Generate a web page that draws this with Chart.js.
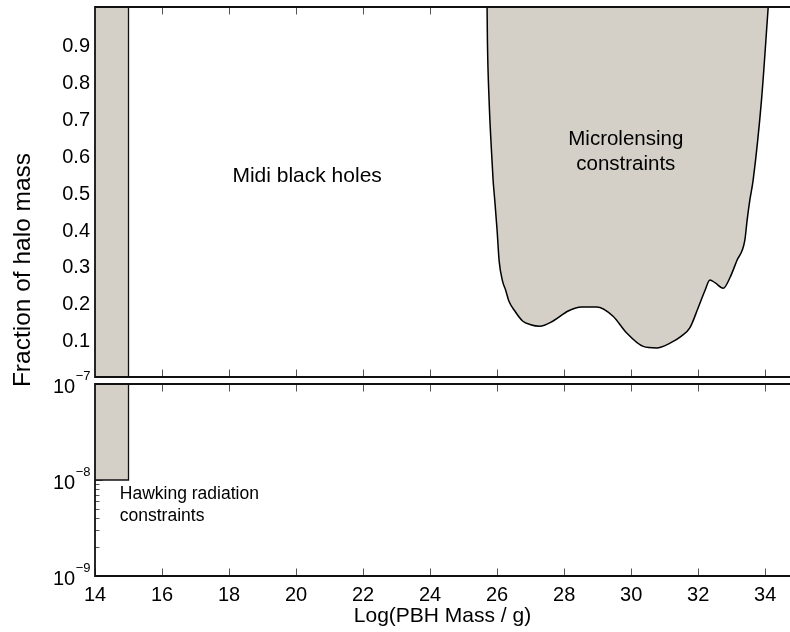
<!DOCTYPE html>
<html><head><meta charset="utf-8">
<script src="https://cdn.jsdelivr.net/npm/chart.js@4.4.0/dist/chart.umd.min.js"></script>
<style>
html,body{margin:0;padding:0;background:#fff;}
#wrap{position:relative;width:790px;height:632px;overflow:hidden;background:#fff;}
canvas{position:absolute;left:0;top:0;}
</style></head><body>
<div id="wrap"><canvas id="cTop" width="790" height="632"></canvas><canvas id="cBot" width="790" height="632"></canvas></div>
<script>
// ---- data ----
const xMin = 14, xMax = 34.74;
const xTicks = [14, 16, 18, 20, 22, 24, 26, 28, 30, 32, 34];
const topYMin = 0.004, topYMax = 1.008;
const topYTicks = [0.1, 0.2, 0.3, 0.4, 0.5, 0.6, 0.7, 0.8, 0.9];
const botYMin = 1e-9, botYMax = 1e-7;
const botYMajor = [1e-9, 1e-8, 1e-7];
const botYExp = ['−9', '−8', '−7'];

// Microlensing constraint boundary (log mass, fraction)
const microX = [25.70, 25.71, 25.76, 25.83, 25.88, 25.93, 26.00, 26.06, 26.16, 26.26, 26.35, 26.53, 26.76, 27.00, 27.27, 27.67, 28.12, 28.52, 28.97, 29.46, 29.86, 30.36, 30.76, 31.16, 31.50, 31.75, 32.00, 32.20, 32.35, 32.50, 32.75, 32.95, 33.15, 33.39, 33.46, 33.54, 33.64, 33.89, 34.09];
const microY = [1.008, 0.92, 0.756, 0.620, 0.538, 0.483, 0.401, 0.319, 0.265, 0.238, 0.210, 0.183, 0.156, 0.146, 0.142, 0.156, 0.183, 0.194, 0.194, 0.169, 0.124, 0.087, 0.083, 0.096, 0.115, 0.137, 0.192, 0.238, 0.267, 0.260, 0.245, 0.274, 0.319, 0.374, 0.429, 0.483, 0.538, 0.756, 1.008];

// Hawking radiation constraint (top: full height, bottom: 1e-8 .. 1e-7)
const hawkTopX = [14, 15, 15];
const hawkTopY = [1.008, 1.008, 0.004];
const hawkBotX = [14, 15, 15];
const hawkBotY = [1e-8, 1e-8, 1e-7];

const FILL = '#d4d0c8';
const FONT = "'Liberation Sans', Arial, Helvetica, sans-serif";
const TICKC = '#555';
const TL = 7.5;

function pts(xs, ys) { return xs.map((x, i) => ({x: x, y: ys[i]})); }

function drawBorders(chart) {
  const {ctx, chartArea: a} = chart;
  ctx.save();
  ctx.strokeStyle = '#111';
  ctx.lineWidth = 1.8;
  ctx.beginPath();
  ctx.moveTo(a.left, a.top); ctx.lineTo(a.right + 2, a.top);
  ctx.moveTo(a.left, a.bottom); ctx.lineTo(a.right + 2, a.bottom);
  ctx.moveTo(a.left, a.top - 0.9); ctx.lineTo(a.left, a.bottom + 0.9);
  ctx.stroke();
  ctx.restore();
}
function drawXTicks(chart) {
  const {ctx, chartArea: a} = chart;
  const xs = chart.scales.x;
  ctx.save();
  ctx.strokeStyle = TICKC; ctx.lineWidth = 1;
  ctx.beginPath();
  xTicks.forEach(v => {
    const px = Math.round(xs.getPixelForValue(v)) + 0.5;
    ctx.moveTo(px, a.top); ctx.lineTo(px, a.top + TL);
    ctx.moveTo(px, a.bottom); ctx.lineTo(px, a.bottom - TL);
  });
  ctx.stroke();
  ctx.restore();
}

const topPlugin = {
  id: 'topDeco',
  beforeDatasetsDraw(chart) {
    drawXTicks(chart);
    const {ctx, chartArea: a} = chart;
    const ys = chart.scales.y;
    ctx.save();
    ctx.strokeStyle = TICKC; ctx.lineWidth = 1;
    ctx.beginPath();
    topYTicks.forEach(v => {
      const py = Math.round(ys.getPixelForValue(v)) + 0.5;
      ctx.moveTo(a.left, py); ctx.lineTo(a.left + TL, py);
    });
    ctx.stroke();
    ctx.restore();
  },
  afterDatasetsDraw(chart) {
    drawBorders(chart);
    const {ctx} = chart;
    const xs = chart.scales.x, ys = chart.scales.y;
    ctx.save();
    ctx.fillStyle = '#000';
    ctx.textAlign = 'center';
    ctx.textBaseline = 'middle';
    ctx.font = '21px ' + FONT;
    ctx.fillText('Midi black holes', xs.getPixelForValue(20.33), ys.getPixelForValue(0.548));
    ctx.font = '20.5px ' + FONT;
    const mx = xs.getPixelForValue(29.84), my = ys.getPixelForValue(0.615);
    ctx.fillText('Microlensing', mx, my - 12.5);
    ctx.fillText('constraints', mx, my + 12.5);
    ctx.restore();
  }
};

const botPlugin = {
  id: 'botDeco',
  beforeDatasetsDraw(chart) {
    drawXTicks(chart);
    const {ctx, chartArea: a} = chart;
    const ys = chart.scales.y;
    ctx.save();
    ctx.strokeStyle = TICKC; ctx.lineWidth = 1;
    ctx.beginPath();
    ys.ticks.forEach(t => {
      const v = t.value;
      const m = v / Math.pow(10, Math.floor(Math.log10(v) + 1e-9));
      const major = Math.abs(m - 1) < 1e-6;
      const py = Math.round(ys.getPixelForValue(v)) + 0.5;
      ctx.moveTo(a.left, py); ctx.lineTo(a.left + (major ? TL : 4.5), py);
    });
    ctx.stroke();
    ctx.restore();
  },
  afterDatasetsDraw(chart) {
    drawBorders(chart);
    const {ctx, chartArea: a} = chart;
    const xs = chart.scales.x, ys = chart.scales.y;
    ctx.save();
    ctx.fillStyle = '#000';
    // log tick labels 10^n
    botYMajor.forEach((v, i) => {
      const py = ys.getPixelForValue(v);
      ctx.font = '13px ' + FONT;
      const ew = ctx.measureText(botYExp[i]).width;
      const right = a.left - 4.5;
      ctx.textAlign = 'left'; ctx.textBaseline = 'alphabetic';
      ctx.fillText(botYExp[i], right - ew, py - 4);
      ctx.font = '20px ' + FONT;
      ctx.textAlign = 'right';
      ctx.fillText('10', right - ew - 0.5, py + 9);
    });
    // Hawking annotation
    ctx.font = '17.5px ' + FONT;
    ctx.textAlign = 'left'; ctx.textBaseline = 'middle';
    const hx = xs.getPixelForValue(14.74), hy = ys.getPixelForValue(7.1e-9);
    ctx.fillText('Hawking radiation', hx, hy);
    ctx.fillText('constraints', hx, hy + 21.5);
    // y axis title (spans both panels)
    ctx.font = '24.5px ' + FONT;
    ctx.translate(23, 270);
    ctx.rotate(-Math.PI / 2);
    ctx.textAlign = 'center'; ctx.textBaseline = 'middle';
    ctx.fillText('Fraction of halo mass', 0, 0);
    ctx.restore();
  }
};

const common = {
  responsive: false,
  animation: false,
  devicePixelRatio: 1,
  plugins: {legend: {display: false}, tooltip: {enabled: false}},
  elements: {point: {radius: 0}, line: {tension: 0}}
};

function fixY(s) { s.width = 95; s.paddingTop = 0; s.paddingBottom = 0; }

new Chart(document.getElementById('cTop'), {
  type: 'line',
  data: {
    datasets: [
      {data: pts(hawkTopX, hawkTopY), fill: 'start', backgroundColor: FILL, borderColor: '#111', borderWidth: 1.3},
      {data: pts(microX, microY), fill: 'end', backgroundColor: FILL, borderColor: '#000', borderWidth: 1.5,
       cubicInterpolationMode: 'monotone'}
    ]
  },
  options: Object.assign({}, common, {
    layout: {padding: {top: 7, bottom: 255, left: 0, right: 0}},
    scales: {
      x: {type: 'linear', min: xMin, max: xMax, display: false},
      y: {type: 'linear', min: topYMin, max: topYMax,
          ticks: {stepSize: 0.1, includeBounds: false, padding: 5, color: '#000',
                  font: {family: FONT, size: 20},
                  callback: v => topYTicks.some(t => Math.abs(t - v) < 1e-6) ? v.toFixed(1) : ''},
          grid: {display: false, drawTicks: false}, border: {display: false},
          afterFit: fixY}
    }
  }),
  plugins: [topPlugin]
});

new Chart(document.getElementById('cBot'), {
  type: 'line',
  data: {
    datasets: [
      {data: pts(hawkBotX, hawkBotY), fill: 'end', backgroundColor: FILL, borderColor: '#111', borderWidth: 1.3}
    ]
  },
  options: Object.assign({}, common, {
    layout: {padding: {top: 384, bottom: 0, left: 0, right: 0}},
    scales: {
      x: {type: 'linear', min: xMin, max: xMax,
          ticks: {stepSize: 2, includeBounds: false, padding: 7, color: '#000', maxRotation: 0, autoSkip: false,
                  font: {family: FONT, size: 20},
                  callback: v => xTicks.includes(v) ? String(v) : ''},
          grid: {display: false, drawTicks: false}, border: {display: false},
          title: {display: true, text: 'Log(PBH Mass / g)', color: '#000', font: {family: FONT, size: 21}, padding: {top: 0, bottom: 3}},
          afterFit: s => { s.height = 56; }},
      y: {type: 'logarithmic', min: botYMin, max: botYMax,
          ticks: {display: false},
          grid: {display: false, drawTicks: false}, border: {display: false},
          afterFit: fixY}
    }
  }),
  plugins: [botPlugin]
});
</script>
</body></html>
